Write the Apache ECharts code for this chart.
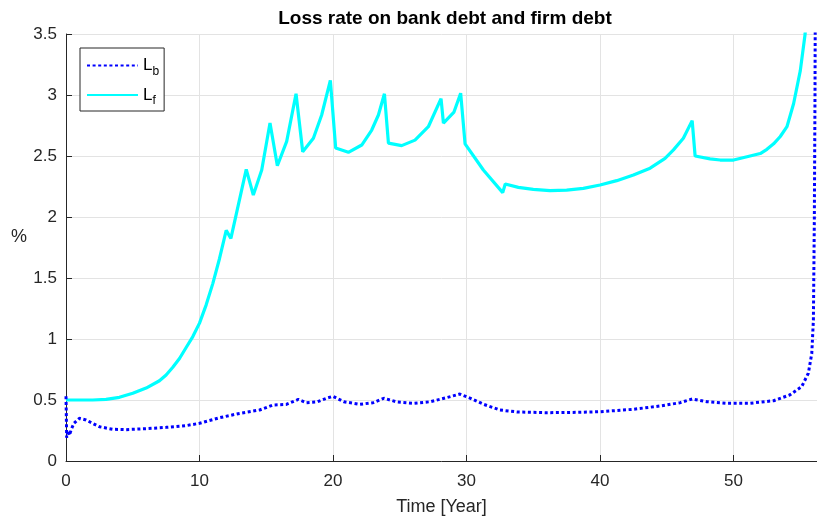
<!DOCTYPE html>
<html>
<head>
<meta charset="utf-8">
<script src="https://cdn.jsdelivr.net/npm/echarts@6/dist/echarts.min.js"></script>
<style>
  html, body { margin: 0; padding: 0; background: #fff; }
  #chart { width: 817px; height: 521px; }
</style>
</head>
<body>
<div id="chart"></div>
<script>
// Loss rate on bank debt (L_b) and on firm debt (L_f), in percent, against time in years
const seriesNames = ['L_b', 'L_f'];

const timeBank = [0, 0.02, 0.05, 0.15, 0.25, 0.4, 0.6, 1.0, 1.5, 2.5, 3.5, 4.5, 6.0, 7.5, 9.0, 10.0, 11.5, 13.0, 14.5, 15.5, 16.5, 17.4, 18.0, 18.8, 19.5, 20.0, 20.8, 22.0, 23.0, 23.8, 24.8, 26.0, 27.3, 28.5, 29.5, 30.3, 31.3, 32.5, 33.8, 36.0, 38.5, 40.0, 42.5, 44.5, 46.0, 46.9, 48.0, 49.5, 51.2, 53.0, 54.2, 55.1, 55.6, 55.86, 55.98, 56.05, 56.1, 56.13];
const lossBank = [0.53, 0.40, 0.19, 0.25, 0.21, 0.26, 0.31, 0.35, 0.336, 0.281, 0.26, 0.257, 0.265, 0.276, 0.29, 0.309, 0.355, 0.39, 0.418, 0.459, 0.464, 0.505, 0.478, 0.484, 0.514, 0.53, 0.486, 0.464, 0.478, 0.514, 0.484, 0.473, 0.486, 0.519, 0.549, 0.514, 0.464, 0.418, 0.402, 0.396, 0.399, 0.404, 0.424, 0.451, 0.478, 0.508, 0.486, 0.473, 0.473, 0.494, 0.541, 0.609, 0.719, 0.883, 1.156, 1.975, 3.0, 4.0];

const timeFirm = [0, 1, 2, 3, 4, 5, 6, 7, 7.5, 8, 8.5, 9, 9.5, 10, 10.5, 11, 11.5, 12, 12.35, 13.5, 14.03, 14.66, 15.28, 15.83, 16.53, 17.23, 17.73, 18.53, 19.15, 19.8, 20.2, 21.15, 22.15, 22.9, 23.4, 23.85, 24.15, 25.14, 26.14, 27.14, 28.09, 28.27, 29.06, 29.56, 29.89, 31.26, 32.71, 32.9, 33.88, 35, 36.25, 37.5, 38.75, 40, 41.25, 42.5, 43.75, 44.87, 45.5, 46.24, 46.9, 47.12, 48.24, 49, 50, 51.24, 52, 52.5, 53, 53.5, 54, 54.5, 55, 55.36, 55.6];
const lossFirm = [0.5, 0.5, 0.5, 0.505, 0.522, 0.555, 0.598, 0.658, 0.705, 0.768, 0.84, 0.93, 1.02, 1.13, 1.28, 1.456, 1.66, 1.89, 1.825, 2.39, 2.18, 2.385, 2.77, 2.42, 2.62, 3.01, 2.535, 2.645, 2.836, 3.12, 2.565, 2.53, 2.59, 2.713, 2.836, 3.01, 2.605, 2.585, 2.63, 2.74, 2.97, 2.77, 2.86, 3.015, 2.6, 2.385, 2.2, 2.27, 2.243, 2.227, 2.216, 2.221, 2.235, 2.262, 2.298, 2.344, 2.4, 2.481, 2.55, 2.645, 2.79, 2.5, 2.477, 2.467, 2.467, 2.5, 2.52, 2.555, 2.6, 2.66, 2.74, 2.93, 3.2, 3.5, 3.9];

const xTicks = [0, 10, 20, 30, 40, 50];
const yTicks = [0, 0.5, 1, 1.5, 2, 2.5, 3, 3.5];

const pairs = (xs, ys) => xs.map((x, i) => [x, ys[i]]);

const FONT = '"Liberation Sans", Arial, Helvetica, sans-serif';
const INK = '#262626';

const chart = echarts.init(document.getElementById('chart'), null, { renderer: 'canvas' });

chart.setOption({
  animation: false,
  backgroundColor: '#ffffff',
  textStyle: { fontFamily: FONT },
  title: {
    text: 'Loss rate on bank debt and firm debt',
    left: 445,
    top: 9,
    padding: 0,
    textAlign: 'center',
    textStyle: { fontFamily: FONT, fontSize: 19, fontWeight: 'bold', color: '#000' }
  },
  // y-axis unit label, placed beside the axis
  graphic: [{
    type: 'text',
    left: 11,
    top: 228,
    style: { text: '%', fontFamily: FONT, fontSize: 18, fill: INK }
  }],
  grid: { left: 66, right: 0, top: 34, bottom: 60, containLabel: false },
  xAxis: {
    type: 'value',
    min: xTicks[0],
    max: 56.25,
    interval: xTicks[1] - xTicks[0],
    name: 'Time [Year]',
    nameLocation: 'middle',
    nameGap: 37,
    nameTextStyle: { fontFamily: FONT, fontSize: 18, color: INK },
    axisLine: { show: true, onZero: false, lineStyle: { color: INK, width: 1 } },
    axisTick: { show: true, inside: true, length: 6, lineStyle: { color: INK } },
    axisLabel: { showMaxLabel: false, margin: 12, fontFamily: FONT, fontSize: 17, color: INK },
    splitLine: { show: true, lineStyle: { color: '#e3e3e3', width: 1 } }
  },
  yAxis: {
    type: 'value',
    min: yTicks[0],
    max: yTicks[yTicks.length - 1],
    interval: yTicks[1] - yTicks[0],
    axisLine: { show: true, lineStyle: { color: INK, width: 1 } },
    axisTick: { show: true, inside: true, length: 6, lineStyle: { color: INK } },
    axisLabel: { margin: 9, fontFamily: FONT, fontSize: 17, color: INK },
    splitLine: { show: true, lineStyle: { color: '#e3e3e3', width: 1 } }
  },
  legend: {
    orient: 'vertical',
    left: 80,
    top: 48,
    padding: [9, 5, 4, 6],
    itemWidth: 51,
    itemHeight: 14,
    itemGap: 9,
    backgroundColor: '#ffffff',
    borderColor: INK,
    borderWidth: 1,
    borderRadius: 0,
    itemStyle: { color: 'transparent', borderColor: 'transparent', borderWidth: 0 },
    data: seriesNames,
    formatter: name => 'L{s|' + name.split('_')[1] + '}',
    textStyle: {
      fontFamily: FONT, fontSize: 17, color: '#000', padding: [0, 0, 0, 0],
      rich: { s: { fontFamily: FONT, fontSize: 12, color: '#000', padding: [12, 0, 0, 0] } }
    }
  },
  series: [
    {
      name: seriesNames[0],
      type: 'line',
      data: pairs(timeBank, lossBank),
      showSymbol: false,
      symbol: 'none',
      clip: true,
      z: 3,
      lineStyle: { color: '#0000ff', width: 3, type: [3, 2.6] },
      itemStyle: { color: '#0000ff' }
    },
    {
      name: seriesNames[1],
      type: 'line',
      data: pairs(timeFirm, lossFirm),
      showSymbol: false,
      symbol: 'none',
      clip: true,
      z: 2,
      lineStyle: { color: '#00ffff', width: 3.2 },
      itemStyle: { color: '#00ffff' }
    }
  ]
});
</script>
</body>
</html>
